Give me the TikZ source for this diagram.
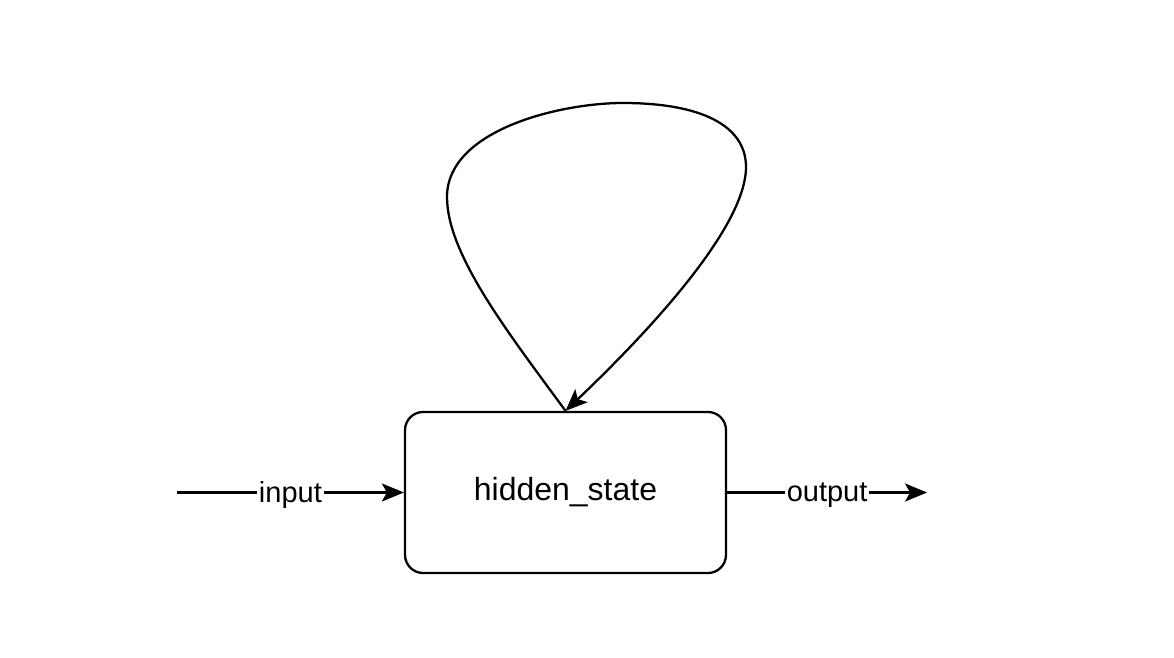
\documentclass[tikz,border=0pt]{standalone}
\usepackage{fontspec}
\setmainfont{Liberation Sans}
\usetikzlibrary{positioning}
\usetikzlibrary{arrows.meta}

\begin{document}
\begin{tikzpicture}[x=0.02cm,y=-0.02cm,->,>={Stealth[length=0.44cm,width=0.36cm,inset=0.1cm]},line width=1.3pt]
\tikzstyle{rnnstate}=[rectangle,
  rounded corners=0.36cm,
  draw=black,fill=white,text=black,
  minimum width= 6.42cm,
  minimum height= 3.22cm,
  font=\fontsize{18.2}{22}\selectfont
]

\tikzstyle{edgelabel}=[
  fill=white,
  inner sep=1pt,
  text=black,
  yshift=-0.05cm,
  font=\fontsize{16.5}{20}\selectfont
]

\useasboundingbox (0,0) rectangle (1174,658);
\node[rnnstate]      (H) at (565.5,492.5)   {hidden\_state};
\coordinate[left=4.54cm of H.west]  (in);
\coordinate[right=4cm of H.east]    (out);

\draw (in) -- node[edgelabel] {input} (H.west);
\draw (H.east) -- node[edgelabel] {output} (out);

% recurrent loop over the state
\draw (H.north) .. controls (510,335) and (447,255) .. (447,197)
  .. controls (447,130) and (560,103) .. (623,103)
  .. controls (700,103) and (746,125) .. (746,167)
  .. controls (746,230) and (640,340) .. (H.north);
\end{tikzpicture}
\end{document}
